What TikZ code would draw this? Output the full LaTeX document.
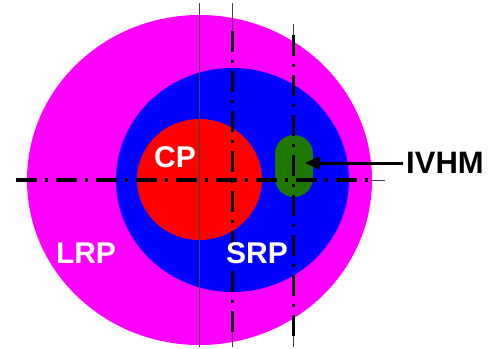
\documentclass[tikz,border=0pt]{standalone}
\usepackage{fontspec}
\setmainfont{Liberation Sans}
\usetikzlibrary{arrows.meta}
\definecolor{cmag}{HTML}{FF00FF}
\definecolor{cblue}{HTML}{0000FF}
\definecolor{cred}{HTML}{FF0000}
\definecolor{cgreen}{HTML}{1E7800}
\tikzset{
  axis/.style={line width=3.6pt, dash pattern=on 21pt off 8pt on 3pt off 8pt},
  guide/.style={line width=0.7pt, draw=black!75},
  zone/.style={font=\fontsize{30}{30}\selectfont\bfseries, text=white, inner sep=0pt},
  callout/.style={font=\fontsize{31}{31}\selectfont\bfseries, inner sep=3pt},
  pointer/.style={-{Triangle[length=15pt, width=13pt]}, line width=3pt},
}
\begin{document}
\begin{tikzpicture}[x=1pt, y=-1pt]
  \useasboundingbox (0,0) rectangle (492,348);
  % nested regions
  \fill[cmag] (199.5,180) ellipse (172.5 and 165);
  \fill[cblue] (232.5,180) ellipse (116.5 and 112);
  \fill[cred] (199.5,179.5) ellipse (62.5 and 60.5);
  \node[fill=cgreen, rounded corners=19pt, minimum width=38pt, minimum height=62pt, inner sep=0pt] (ivhmbox) at (294,166) {};
  % guide lines
  \draw[guide] (199.5,3) -- (199.5,347);
  \draw[guide] (232.5,3) -- (232.5,31);
  \draw[guide] (232.5,333) -- (232.5,347);
  \draw[guide] (293.5,24) -- (293.5,35);
  \draw[guide] (293.5,336) -- (293.5,347);
  \draw[guide] (372,180) -- (385,180);
  \draw[axis] (16,180) -- (372,180);
  \draw[axis] (232.5,31) -- (232.5,333);
  \draw[axis] (293.5,35) -- (293.5,336);
  % labels
  \node[zone] (cp) at (175,157) {CP};
  \node[zone] (lrp) at (86,253) {LRP};
  \node[zone] (srp) at (257,253) {SRP};
  \node[callout, anchor=west] (ivhm) at (403,163) {IVHM};
  \coordinate (tip) at (305,163);
  \draw[pointer] (ivhm.west) -- (tip);
\end{tikzpicture}
\end{document}
